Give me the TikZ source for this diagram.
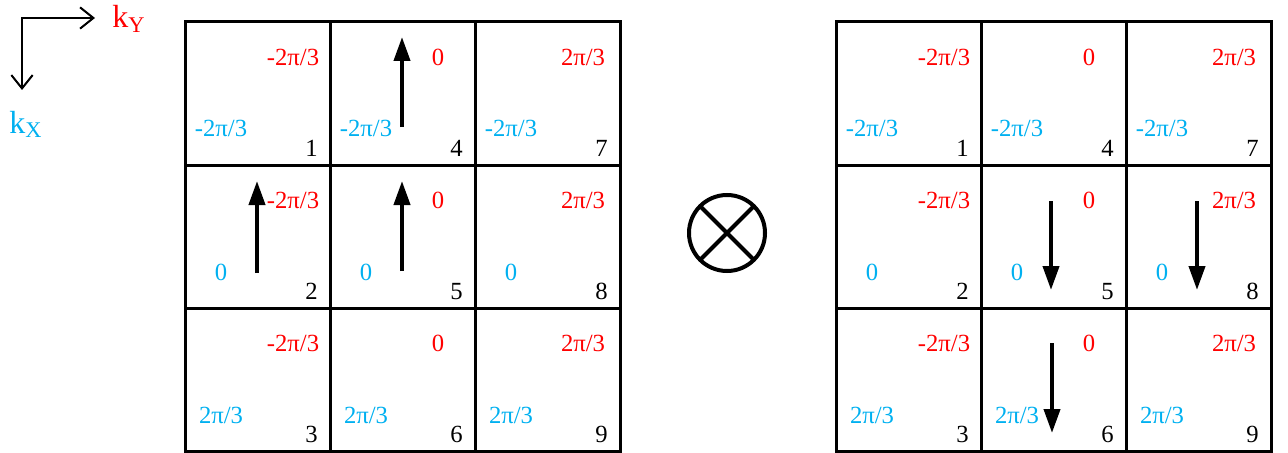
\documentclass[tikz,border=0pt]{standalone}
\usepackage{fontspec}
\setmainfont{Liberation Serif}
\usepackage{xcolor}
\usetikzlibrary{arrows.meta,calc}
\definecolor{phasered}{RGB}{255,0,0}
\definecolor{phaseblue}{RGB}{0,176,240}

\begin{document}
\begin{tikzpicture}[
  x=0.75pt, y=-0.75pt,
  cell/.style={draw, line width=2.25pt, inner sep=0pt, outer sep=0pt,
    minimum width=108.75pt, minimum height=107.25pt},
  kyval/.style={text=phasered, anchor=base, inner sep=0pt, font=\fontsize{18.5}{21}\selectfont},
  kxval/.style={text=phaseblue, anchor=base, inner sep=0pt, font=\fontsize{18.5}{21}\selectfont},
  site/.style={anchor=base east, inner sep=0pt, font=\fontsize{18.5}{21}\selectfont},
  spin/.style={-{Triangle[length=18pt, width=12pt]}, line width=3pt},
  axis/.style={{Straight Barb[length=10pt, width=16pt]}-{Straight Barb[length=10pt, width=16pt]}, line width=1.5pt},
  axislabel/.style={anchor=base west, inner sep=0pt, font=\fontsize{24}{27}\selectfont}
]
\useasboundingbox (0,0) rectangle (1288,453);

% axes
\coordinate (orig) at (22,18);
\coordinate (yend) at (95,18);
\coordinate (xend) at (22,90);
\draw[axis] (xend) -- (orig) -- (yend);
\node[axislabel, text=phasered] (ky) at (112,28) {k\textsubscript{Y}};
\node[axislabel, text=phaseblue] (kx) at (9,133) {k\textsubscript{X}};

% left lattice
\node[cell] (L1) at (257.5,93.5) {};
\node[cell] (L2) at (257.5,236.5) {};
\node[cell] (L3) at (257.5,379.5) {};
\node[cell] (L4) at (402.5,93.5) {};
\node[cell] (L5) at (402.5,236.5) {};
\node[cell] (L6) at (402.5,379.5) {};
\node[cell] (L7) at (547.5,93.5) {};
\node[cell] (L8) at (547.5,236.5) {};
\node[cell] (L9) at (547.5,379.5) {};

\node[kyval] (L1y) at ($(L1.north west)+(108,43)$) {-2π/3};
\node[kyval] (L2y) at ($(L2.north west)+(108,43)$) {-2π/3};
\node[kyval] (L3y) at ($(L3.north west)+(108,43)$) {-2π/3};
\node[kyval] (L4y) at ($(L4.north west)+(108,43)$) {0};
\node[kyval] (L5y) at ($(L5.north west)+(108,43)$) {0};
\node[kyval] (L6y) at ($(L6.north west)+(108,43)$) {0};
\node[kyval] (L7y) at ($(L7.north west)+(108,43)$) {2π/3};
\node[kyval] (L8y) at ($(L8.north west)+(108,43)$) {2π/3};
\node[kyval] (L9y) at ($(L9.north west)+(108,43)$) {2π/3};

\node[kxval] (L1x) at ($(L1.north west)+(36,115)$) {-2π/3};
\node[kxval] (L2x) at ($(L2.north west)+(36,115)$) {0};
\node[kxval] (L3x) at ($(L3.north west)+(36,115)$) {2π/3};
\node[kxval] (L4x) at ($(L4.north west)+(36,115)$) {-2π/3};
\node[kxval] (L5x) at ($(L5.north west)+(36,115)$) {0};
\node[kxval] (L6x) at ($(L6.north west)+(36,115)$) {2π/3};
\node[kxval] (L7x) at ($(L7.north west)+(36,115)$) {-2π/3};
\node[kxval] (L8x) at ($(L8.north west)+(36,115)$) {0};
\node[kxval] (L9x) at ($(L9.north west)+(36,115)$) {2π/3};

\node[site] (L1n) at ($(L1.north west)+(133,134)$) {1};
\node[site] (L2n) at ($(L2.north west)+(133,134)$) {2};
\node[site] (L3n) at ($(L3.north west)+(133,134)$) {3};
\node[site] (L4n) at ($(L4.north west)+(133,134)$) {4};
\node[site] (L5n) at ($(L5.north west)+(133,134)$) {5};
\node[site] (L6n) at ($(L6.north west)+(133,134)$) {6};
\node[site] (L7n) at ($(L7.north west)+(133,134)$) {7};
\node[site] (L8n) at ($(L8.north west)+(133,134)$) {8};
\node[site] (L9n) at ($(L9.north west)+(133,134)$) {9};

\draw[spin] ($(L4.north west)+(72,105)$) -- ++(0,-90);
\draw[spin] ($(L2.north west)+(72,108)$) -- ++(0,-92);
\draw[spin] ($(L5.north west)+(72,106)$) -- ++(0,-90);

% product sign
\node[draw, circle, line width=3pt, minimum size=57pt, inner sep=0pt, outer sep=0pt] (prod) at (727,233) {};
\draw[line width=3pt] (prod.north west) -- (prod.south east);
\draw[line width=3pt] (prod.north east) -- (prod.south west);

% right lattice
\node[cell] (R1) at (908.5,93.5) {};
\node[cell] (R2) at (908.5,236.5) {};
\node[cell] (R3) at (908.5,379.5) {};
\node[cell] (R4) at (1053.5,93.5) {};
\node[cell] (R5) at (1053.5,236.5) {};
\node[cell] (R6) at (1053.5,379.5) {};
\node[cell] (R7) at (1198.5,93.5) {};
\node[cell] (R8) at (1198.5,236.5) {};
\node[cell] (R9) at (1198.5,379.5) {};

\node[kyval] (R1y) at ($(R1.north west)+(108,43)$) {-2π/3};
\node[kyval] (R2y) at ($(R2.north west)+(108,43)$) {-2π/3};
\node[kyval] (R3y) at ($(R3.north west)+(108,43)$) {-2π/3};
\node[kyval] (R4y) at ($(R4.north west)+(108,43)$) {0};
\node[kyval] (R5y) at ($(R5.north west)+(108,43)$) {0};
\node[kyval] (R6y) at ($(R6.north west)+(108,43)$) {0};
\node[kyval] (R7y) at ($(R7.north west)+(108,43)$) {2π/3};
\node[kyval] (R8y) at ($(R8.north west)+(108,43)$) {2π/3};
\node[kyval] (R9y) at ($(R9.north west)+(108,43)$) {2π/3};

\node[kxval] (R1x) at ($(R1.north west)+(36,115)$) {-2π/3};
\node[kxval] (R2x) at ($(R2.north west)+(36,115)$) {0};
\node[kxval] (R3x) at ($(R3.north west)+(36,115)$) {2π/3};
\node[kxval] (R4x) at ($(R4.north west)+(36,115)$) {-2π/3};
\node[kxval] (R5x) at ($(R5.north west)+(36,115)$) {0};
\node[kxval] (R6x) at ($(R6.north west)+(36,115)$) {2π/3};
\node[kxval] (R7x) at ($(R7.north west)+(36,115)$) {-2π/3};
\node[kxval] (R8x) at ($(R8.north west)+(36,115)$) {0};
\node[kxval] (R9x) at ($(R9.north west)+(36,115)$) {2π/3};

\node[site] (R1n) at ($(R1.north west)+(133,134)$) {1};
\node[site] (R2n) at ($(R2.north west)+(133,134)$) {2};
\node[site] (R3n) at ($(R3.north west)+(133,134)$) {3};
\node[site] (R4n) at ($(R4.north west)+(133,134)$) {4};
\node[site] (R5n) at ($(R5.north west)+(133,134)$) {5};
\node[site] (R6n) at ($(R6.north west)+(133,134)$) {6};
\node[site] (R7n) at ($(R7.north west)+(133,134)$) {7};
\node[site] (R8n) at ($(R8.north west)+(133,134)$) {8};
\node[site] (R9n) at ($(R9.north west)+(133,134)$) {9};

\draw[spin] ($(R5.north west)+(70,36)$) -- ++(0,89);
\draw[spin] ($(R8.north west)+(71,36)$) -- ++(0,89);
\draw[spin] ($(R6.north west)+(71,35)$) -- ++(0,90);
\end{tikzpicture}
\end{document}
